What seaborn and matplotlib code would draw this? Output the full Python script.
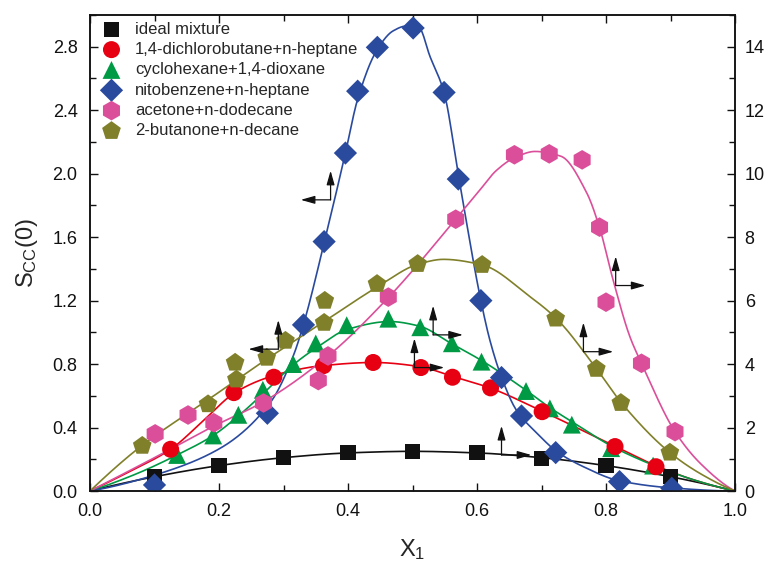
import numpy as np
import matplotlib
matplotlib.use("Agg")
import matplotlib.pyplot as plt
import seaborn as sns
from matplotlib.ticker import MultipleLocator, FormatStrFormatter
from matplotlib.transforms import offset_copy

# ---- measured S_cc(0) values ----
ideal_x = [0.1, 0.2, 0.3, 0.4, 0.5, 0.6, 0.7, 0.8, 0.9]
ideal_y = [0.09, 0.16, 0.21, 0.24, 0.25, 0.24, 0.205, 0.16, 0.09]

dcb_x = [0.125, 0.223, 0.285, 0.362, 0.439, 0.513, 0.562, 0.621, 0.701, 0.814, 0.8775]
dcb_y = [0.263, 0.62, 0.717, 0.79, 0.81, 0.778, 0.717, 0.65, 0.50, 0.28, 0.153]

chx_x = [0.135, 0.191, 0.23, 0.268, 0.315, 0.35, 0.398, 0.4625, 0.512, 0.561, 0.607, 0.676, 0.713, 0.747, 0.808, 0.873]
chx_y = [0.227, 0.35, 0.48, 0.638, 0.80, 0.93, 1.045, 1.086, 1.032, 0.931, 0.815, 0.63, 0.521, 0.418, 0.27, 0.16]

nbz_x = [0.1, 0.275, 0.331, 0.363, 0.396, 0.415, 0.4455, 0.501, 0.549, 0.571, 0.606, 0.638, 0.669, 0.722, 0.821, 0.902]
nbz_y = [0.038, 0.49, 1.047, 1.572, 2.13, 2.52, 2.796, 2.918, 2.512, 1.966, 1.2, 0.715, 0.473, 0.242, 0.059, 0.017]

ace_x = [0.101, 0.152, 0.192, 0.269, 0.354, 0.369, 0.4625, 0.567, 0.658, 0.712, 0.763, 0.79, 0.80, 0.855, 0.907]
ace_y = [0.36, 0.479, 0.43, 0.555, 0.696, 0.851, 1.222, 1.713, 2.119, 2.125, 2.087, 1.663, 1.19, 0.805, 0.374]

but_x = [0.081, 0.183, 0.225, 0.227, 0.274, 0.303, 0.363, 0.364, 0.445, 0.508, 0.608, 0.722, 0.785, 0.823, 0.899]
but_y = [0.285, 0.547, 0.809, 0.703, 0.84, 0.947, 1.06, 1.199, 1.305, 1.431, 1.425, 1.087, 0.77, 0.555, 0.242]

# ---- fitted curves (knots along each fitted line) ----
ideal_fx = [0, 0.1, 0.2, 0.3, 0.4, 0.5, 0.6, 0.7, 0.8, 0.9, 1.0]
ideal_fy = [0, 0.09, 0.16, 0.21, 0.24, 0.25, 0.24, 0.21, 0.16, 0.09, 0]

dcb_fx = [0, 0.06, 0.125, 0.175, 0.223, 0.265, 0.31, 0.36, 0.44, 0.51, 0.56, 0.62, 0.70, 0.81, 0.88, 0.94, 1.0]
dcb_fy = [0, 0.12, 0.263, 0.44, 0.615, 0.70, 0.755, 0.79, 0.81, 0.785, 0.725, 0.65, 0.505, 0.29, 0.155, 0.065, 0]

chx_fx = [0, 0.07, 0.135, 0.191, 0.232, 0.27, 0.315, 0.35, 0.40, 0.465, 0.51, 0.56, 0.61, 0.676, 0.713, 0.75, 0.81, 0.875, 0.94, 1.0]
chx_fy = [0, 0.105, 0.227, 0.35, 0.48, 0.62, 0.795, 0.90, 1.02, 1.068, 1.04, 0.93, 0.815, 0.635, 0.525, 0.43, 0.28, 0.16, 0.065, 0]

nbz_fx = [0, 0.1, 0.2, 0.28, 0.315, 0.331, 0.364, 0.396, 0.415, 0.445, 0.47, 0.49, 0.51, 0.527, 0.549, 0.572, 0.606, 0.62, 0.638, 0.661, 0.693, 0.724, 0.765, 0.82, 0.9, 1.0]
nbz_fy = [0, 0.10, 0.265, 0.56, 0.85, 1.05, 1.58, 2.13, 2.47, 2.78, 2.90, 2.93, 2.92, 2.74, 2.51, 1.97, 1.20, 0.95, 0.717, 0.51, 0.364, 0.248, 0.153, 0.065, 0.02, 0]

ace_fx = [0, 0.1, 0.19, 0.27, 0.369, 0.463, 0.567, 0.605, 0.63, 0.658, 0.69, 0.73, 0.77, 0.79, 0.811, 0.837, 0.855, 0.907, 0.946, 1.0]
ace_fy = [0, 0.21, 0.405, 0.565, 0.851, 1.221, 1.713, 1.90, 2.02, 2.10, 2.14, 2.11, 1.88, 1.66, 1.33, 0.973, 0.805, 0.374, 0.175, 0]

but_fx = [0, 0.08, 0.183, 0.27, 0.36, 0.447, 0.509, 0.548, 0.608, 0.682, 0.723, 0.785, 0.824, 0.899, 0.946, 1.0]
but_fy = [0, 0.285, 0.575, 0.82, 1.06, 1.29, 1.43, 1.46, 1.425, 1.225, 1.087, 0.772, 0.555, 0.242, 0.11, 0]

labels = ["ideal mixture", "1,4-dichlorobutane+n-heptane", "cyclohexane+1,4-dioxane",
          "nitobenzene+n-heptane", "acetone+n-dodecane", "2-butanone+n-decane"]
colors = ["#111111", "#E60012", "#009944", "#2A4A9E", "#DB4F9A", "#80802A"]
markers = ["s", "o", "^", "D", "h", "p"]
msizes = [118, 150, 165, 140, 200, 200]

# axis-direction arrows: corner (x, y) and horizontal direction
arrow_x = [0.373, 0.292, 0.815, 0.765, 0.532, 0.503, 0.638]
arrow_y = [1.835, 0.894, 1.295, 0.878, 0.984, 0.778, 0.227]
arrow_dir = [-1, -1, 1, 1, 1, 1, 1]


def pchip(xk, yk, xs):
    xk = np.asarray(xk, float)
    yk = np.asarray(yk, float)
    h = np.diff(xk)
    d = np.diff(yk) / h
    n = len(xk)
    m = np.zeros(n)
    for i in range(1, n - 1):
        if d[i - 1] * d[i] > 0:
            w1 = 2 * h[i] + h[i - 1]
            w2 = h[i] + 2 * h[i - 1]
            m[i] = (w1 + w2) / (w1 / d[i - 1] + w2 / d[i])

    def end(h0, h1, d0, d1):
        mm = ((2 * h0 + h1) * d0 - h0 * d1) / (h0 + h1)
        if np.sign(mm) != np.sign(d0):
            mm = 0.0
        elif np.sign(d0) != np.sign(d1) and abs(mm) > abs(3 * d0):
            mm = 3 * d0
        return mm

    m[0] = end(h[0], h[1], d[0], d[1])
    m[-1] = end(h[-1], h[-2], d[-1], d[-2])
    idx = np.clip(np.searchsorted(xk, xs) - 1, 0, n - 2)
    t = (xs - xk[idx]) / h[idx]
    h00 = 2 * t**3 - 3 * t**2 + 1
    h10 = t**3 - 2 * t**2 + t
    h01 = -2 * t**3 + 3 * t**2
    h11 = t**3 - t**2
    return (h00 * yk[idx] + h10 * h[idx] * m[idx]
            + h01 * yk[idx + 1] + h11 * h[idx] * m[idx + 1])


sns.set_style("ticks")
plt.rcParams["font.family"] = ["Liberation Sans", "DejaVu Sans"]
plt.rcParams["mathtext.fontset"] = "custom"
plt.rcParams["mathtext.rm"] = "Liberation Sans"
plt.rcParams["mathtext.it"] = "Liberation Sans:italic"

fig = plt.figure(figsize=(7.68, 5.63), dpi=100)
ax = fig.add_axes([90 / 768, (563 - 491) / 563, 645 / 768, 476 / 563])

fits = [(ideal_fx, ideal_fy), (dcb_fx, dcb_fy), (chx_fx, chx_fy),
        (nbz_fx, nbz_fy), (ace_fx, ace_fy), (but_fx, but_fy)]
points = [(ideal_x, ideal_y), (dcb_x, dcb_y), (chx_x, chx_y),
          (nbz_x, nbz_y), (ace_x, ace_y), (but_x, but_y)]

xs = np.linspace(0, 1, 801)
for (fx, fy), c in zip(fits, colors):
    sns.lineplot(x=xs, y=pchip(fx, fy, xs), color=c, linewidth=1.2,
                 ax=ax, legend=False, errorbar=None, zorder=2)

draw_order = [0, 2, 1, 3, 4, 5]
for i in draw_order:
    px, py = points[i]
    sns.scatterplot(x=px, y=py, marker=markers[i], s=msizes[i], color=colors[i],
                    edgecolor="none", linewidth=0, ax=ax, zorder=3, label=labels[i])

for cx, cy, dr in zip(arrow_x, arrow_y, arrow_dir):
    up = offset_copy(ax.transData, fig=fig, x=0, y=21, units="points")
    side = offset_copy(ax.transData, fig=fig, x=21.5 * dr, y=0, units="points")
    for tr in (up, side):
        ax.annotate("", xy=(cx, cy), xycoords=tr, xytext=(cx, cy), textcoords="data",
                    arrowprops=dict(arrowstyle="-|>,head_length=0.85,head_width=0.24",
                                    color="#111111", lw=0.9, shrinkA=0, shrinkB=0,
                                    mutation_scale=10), zorder=5)

ax.set_xlim(0, 1.0)
ax.set_ylim(0, 3.0)
ax.xaxis.set_major_locator(MultipleLocator(0.2))
ax.xaxis.set_minor_locator(MultipleLocator(0.1))
ax.yaxis.set_major_locator(MultipleLocator(0.4))
ax.yaxis.set_minor_locator(MultipleLocator(0.2))
ax.xaxis.set_major_formatter(FormatStrFormatter("%.1f"))
ax.yaxis.set_major_formatter(FormatStrFormatter("%.1f"))
ax.tick_params(which="both", direction="in", top=True, right=False, width=1.0,
               labelsize=13, colors="#111111", pad=9)
ax.tick_params(which="major", length=6)
ax.tick_params(which="minor", length=4)

ax2 = ax.twinx()
ax2.set_ylim(0, 15)
ax2.yaxis.set_major_locator(MultipleLocator(2))
ax2.yaxis.set_minor_locator(MultipleLocator(1))
ax2.tick_params(which="both", direction="in", width=1.0, labelsize=13,
                colors="#111111", pad=7)
ax2.tick_params(which="major", length=6)
ax2.tick_params(which="minor", length=4)

for a in (ax, ax2):
    for sp in a.spines.values():
        sp.set_linewidth(1.1)
        sp.set_color("#111111")

ax.set_xlabel(r"$\mathregular{X_1}$", fontsize=17, labelpad=12)
ax.set_ylabel(r"$\mathregular{S_{CC}(0)}$", fontsize=17, labelpad=9)

h, l = ax.get_legend_handles_labels()
order = [l.index(t) for t in labels]
ax.legend([h[k] for k in order], [l[k] for k in order], loc="upper left",
          bbox_to_anchor=(0.0165, 0.986), frameon=False, fontsize=12, borderpad=0,
          handlelength=1.3, handletextpad=0.75, labelspacing=0.32, borderaxespad=0)

fig.savefig("out.png", dpi=100)
